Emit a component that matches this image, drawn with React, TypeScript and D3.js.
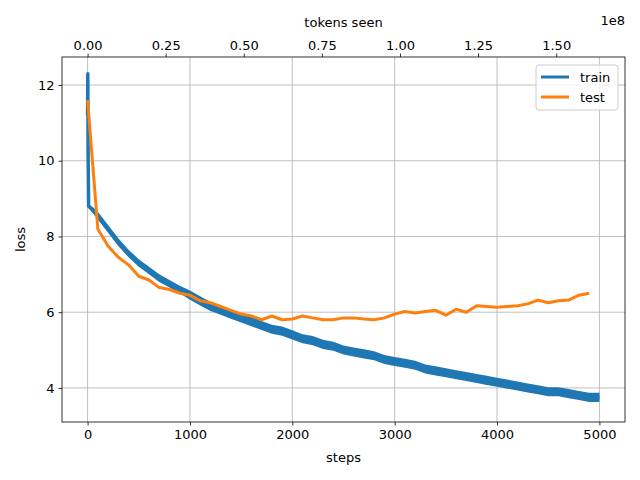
import React from "react";
import * as d3 from "d3";

// train loss (center of the noisy band) and its half spread
const trainSteps = [0, 2, 5, 10, 50, 100, 200, 300, 400, 500, 600, 700, 800, 900, 1000, 1100, 1200, 1300, 1400, 1500, 1600, 1700, 1800, 1900, 2000, 2100, 2200, 2300, 2400, 2500, 2600, 2700, 2800, 2900, 3000, 3100, 3200, 3300, 3400, 3500, 3600, 3700, 3800, 3900, 4000, 4100, 4200, 4300, 4400, 4500, 4600, 4700, 4800, 4900, 5000];
const trainLoss = [11.2, 12.3, 10.2, 8.8, 8.7, 8.55, 8.2, 7.85, 7.55, 7.3, 7.1, 6.9, 6.75, 6.6, 6.45, 6.3, 6.15, 6.05, 5.95, 5.85, 5.75, 5.65, 5.55, 5.5, 5.4, 5.3, 5.25, 5.15, 5.1, 5.0, 4.95, 4.9, 4.85, 4.75, 4.7, 4.65, 4.6, 4.5, 4.45, 4.4, 4.35, 4.3, 4.25, 4.2, 4.15, 4.1, 4.05, 4.0, 3.95, 3.9, 3.9, 3.85, 3.8, 3.75, 3.75];
const trainSpread = [0, 0, 0, 0.05, 0.08, 0.1, 0.1, 0.1, 0.1, 0.1, 0.1, 0.1, 0.1, 0.1, 0.12, 0.12, 0.12, 0.12, 0.12, 0.12, 0.12, 0.12, 0.12, 0.12, 0.12, 0.12, 0.12, 0.12, 0.12, 0.12, 0.12, 0.12, 0.12, 0.12, 0.12, 0.12, 0.12, 0.12, 0.12, 0.12, 0.12, 0.12, 0.12, 0.12, 0.12, 0.12, 0.12, 0.12, 0.12, 0.12, 0.12, 0.12, 0.12, 0.12, 0.12];

const testSteps = [0, 100, 200, 300, 400, 500, 600, 700, 800, 900, 1000, 1100, 1200, 1300, 1400, 1500, 1600, 1700, 1800, 1900, 2000, 2100, 2200, 2300, 2400, 2500, 2600, 2700, 2800, 2900, 3000, 3100, 3200, 3300, 3400, 3500, 3600, 3700, 3800, 3900, 4000, 4100, 4200, 4300, 4400, 4500, 4600, 4700, 4800, 4900];
const testLoss = [11.6, 8.2, 7.75, 7.45, 7.25, 6.95, 6.85, 6.65, 6.6, 6.5, 6.45, 6.3, 6.25, 6.15, 6.05, 5.95, 5.9, 5.8, 5.9, 5.8, 5.82, 5.9, 5.85, 5.8, 5.8, 5.85, 5.85, 5.82, 5.8, 5.85, 5.95, 6.02, 5.98, 6.02, 6.05, 5.92, 6.08, 6.0, 6.17, 6.15, 6.13, 6.15, 6.17, 6.22, 6.32, 6.25, 6.3, 6.32, 6.45, 6.5];

const stepTicks = [0, 1000, 2000, 3000, 4000, 5000];
const lossTicks = [4, 6, 8, 10, 12];
const tokenTicks = [0, 0.25, 0.5, 0.75, 1.0, 1.25, 1.5];
const tokensPerStep = 32768;

const BLUE = "#1f77b4";
const ORANGE = "#ff7f0e";
const FONT = "DejaVu Sans, sans-serif";

export default function App() {
  const ref = React.useRef<SVGSVGElement>(null);

  React.useEffect(() => {
    const svg = d3.select(ref.current);
    svg.selectAll("*").remove();
    const left = 62, right = 625, top = 57, bottom = 422;

    const x = d3.scaleLinear().domain([-250, 5250]).range([left, right]);
    const y = d3.scaleLinear().domain([3.1, 12.74]).range([bottom, top]);
    const xTop = d3.scaleLinear().domain([-250 * tokensPerStep / 1e8, 5250 * tokensPerStep / 1e8]).range([left, right]);

    // grid
    const grid = svg.append("g").attr("stroke", "#b0b0b0").attr("stroke-width", 0.8);
    stepTicks.forEach((t) => grid.append("line").attr("x1", x(t)).attr("x2", x(t)).attr("y1", top).attr("y2", bottom));
    lossTicks.forEach((t) => grid.append("line").attr("x1", left).attr("x2", right).attr("y1", y(t)).attr("y2", y(t)));

    const clip = svg.append("g");

    const band = d3.area<number>()
      .x((i) => x(trainSteps[i]))
      .y0((i) => y(trainLoss[i] - trainSpread[i]))
      .y1((i) => y(trainLoss[i] + trainSpread[i]));
    const idx = d3.range(trainSteps.length);
    clip.append("path").attr("d", band(idx)).attr("fill", BLUE);
    const trainLine = d3.line<number>().x((i) => x(trainSteps[i])).y((i) => y(trainLoss[i]));
    clip.append("path").attr("d", trainLine(idx)).attr("fill", "none").attr("stroke", BLUE).attr("stroke-width", 3.5).attr("stroke-linejoin", "round");

    const testLine = d3.line<number>().x((i) => x(testSteps[i])).y((i) => y(testLoss[i]));
    clip.append("path").attr("d", testLine(d3.range(testSteps.length))).attr("fill", "none").attr("stroke", ORANGE).attr("stroke-width", 3).attr("stroke-linejoin", "round");

    // axes
    const fmtTop = (d: d3.NumberValue) => (+d).toFixed(2);
    const gB = svg.append("g").attr("transform", `translate(0,${bottom})`).call(d3.axisBottom(x).tickValues(stepTicks).tickSize(3.5).tickPadding(4).tickFormat(d3.format("d")));
    const gL = svg.append("g").attr("transform", `translate(${left},0)`).call(d3.axisLeft(y).tickValues(lossTicks).tickSize(3.5).tickPadding(4).tickFormat(d3.format("d")));
    const gT = svg.append("g").attr("transform", `translate(0,${top})`).call(d3.axisTop(xTop).tickValues(tokenTicks).tickSize(3.5).tickPadding(4).tickFormat(fmtTop));
    [gB, gL, gT].forEach((g) => {
      g.select(".domain").remove();
      g.selectAll("text").attr("font-family", FONT).attr("font-size", 13).attr("fill", "#000");
      g.selectAll("line").attr("stroke", "#000").attr("stroke-width", 0.8);
    });
    svg.append("rect").attr("x", left).attr("y", top).attr("width", right - left).attr("height", bottom - top)
      .attr("fill", "none").attr("stroke", "#000").attr("stroke-width", 0.8);

    const txt = (tx: number, ty: number, s: string, anchor = "middle") =>
      svg.append("text").attr("x", tx).attr("y", ty).attr("text-anchor", anchor)
        .attr("font-family", FONT).attr("font-size", 13).text(s);
    txt((left + right) / 2, 462, "steps");
    txt((left + right) / 2, 27, "tokens seen");
    txt(right, 25, "1e8", "end");
    txt(0, 0, "loss").attr("transform", `translate(25,${(top + bottom) / 2}) rotate(-90)`);

    // legend
    const lg = svg.append("g");
    lg.append("rect").attr("x", 536).attr("y", 65).attr("width", 82).attr("height", 45).attr("rx", 3)
      .attr("fill", "#fff").attr("fill-opacity", 0.8).attr("stroke", "#ccc");
    [["train", BLUE], ["test", ORANGE]].forEach(([name, c], i) => {
      const ly = 77 + i * 20;
      lg.append("line").attr("x1", 541).attr("x2", 569).attr("y1", ly).attr("y2", ly).attr("stroke", c).attr("stroke-width", 3);
      txt(580, ly + 4.5, name, "start");
    });
  }, []);

  return <svg ref={ref} width={640} height={480} style={{ position: "absolute", left: 0, top: 0 }} />;
}
